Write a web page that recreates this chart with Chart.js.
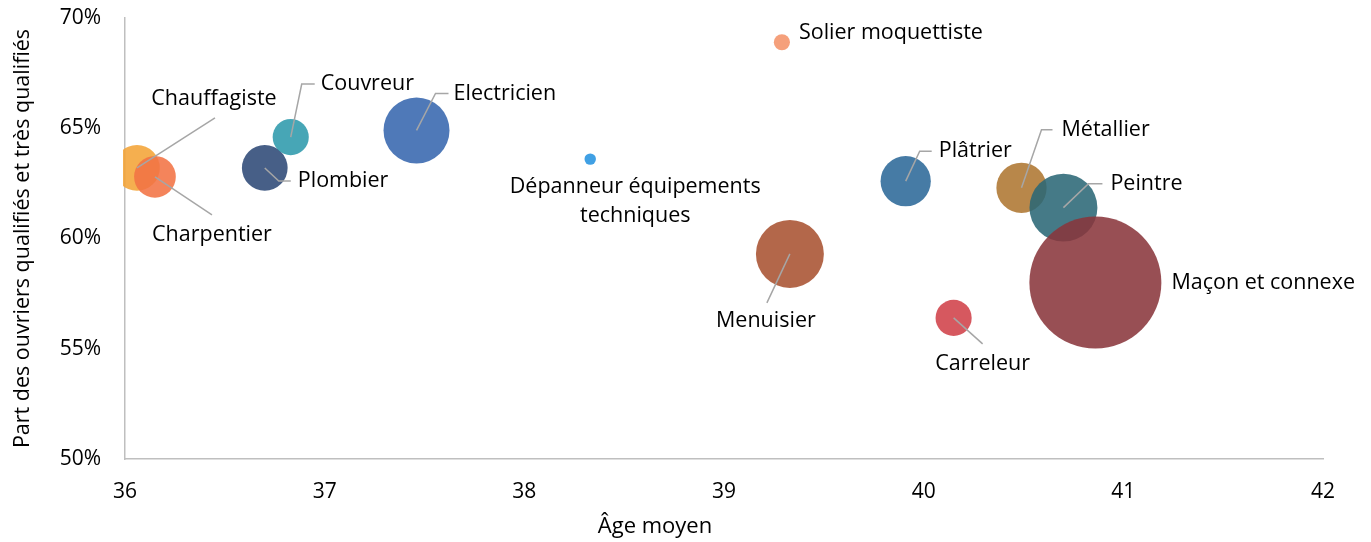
<!DOCTYPE html>
<html lang="fr">
<head>
<meta charset="utf-8">
<script src="https://cdn.jsdelivr.net/npm/chart.js@4.4.0/dist/chart.umd.min.js"></script>
<style>
  html, body { margin: 0; padding: 0; background: #fff; }
  #wrap { width: 1371px; height: 542px; }
</style>
</head>
<body>
<div id="wrap"><canvas id="chart" width="1371" height="542"></canvas></div>
<script>
// Données
const metiers = ['Chauffagiste', 'Charpentier', 'Plombier', 'Couvreur', 'Electricien',
  'Dépanneur équipements techniques', 'Solier moquettiste', 'Menuisier', 'Plâtrier',
  'Métallier', 'Peintre', 'Carreleur', 'Maçon et connexe'];
const ageMoyen = [36.06, 36.15, 36.70, 36.83, 37.46, 38.33, 39.29, 39.33, 39.91, 40.49, 40.70, 40.15, 40.86];
const partQualifies = [63.2, 62.8, 63.2, 64.6, 64.9, 63.6, 68.9, 59.3, 62.6, 62.3, 61.4, 56.4, 58.0];
// taille des bulles (effectifs, en milliers, estimés)
const effectifs = [24, 20, 24, 15, 50, 1.5, 3, 53, 29, 29, 53, 15, 200];
const xTicks = [36, 37, 38, 39, 40, 41, 42];
const yTicks = [50, 55, 60, 65, 70];

const couleurs = [
  'rgba(244,164,55,0.88)', 'rgba(243,115,68,0.88)', 'rgba(46,73,118,0.88)',
  'rgba(46,154,172,0.88)', 'rgba(55,103,174,0.88)', 'rgba(37,147,224,0.88)',
  'rgba(244,147,105,0.88)', 'rgba(169,82,49,0.88)', 'rgba(44,105,153,0.88)',
  'rgba(174,118,49,0.88)', 'rgba(43,104,118,0.88)', 'rgba(208,65,73,0.88)',
  'rgba(138,55,60,0.88)'
];

// placement des étiquettes : ligne de rappel (points relatifs au centre) + texte
const etiquettes = {
  'Chauffagiste': { line: [[78, -50]], text: [77, -69], align: 'center' },
  'Charpentier': { line: [[57, 38]], text: [57, 58], align: 'center' },
  'Plombier': { line: [[14, 13], [26, 13]], text: [33, 13], align: 'left' },
  'Couvreur': { line: [[11, -53], [24, -53]], text: [30, -53], align: 'left' },
  'Electricien': { line: [[19, -37], [32, -37]], text: [37, -37], align: 'left' },
  'Dépanneur équipements techniques': { line: null, text: [45, 28], align: 'center',
    lines: ['Dépanneur équipements', 'techniques'] },
  'Solier moquettiste': { line: null, text: [17, -9], align: 'left' },
  'Menuisier': { line: [[-23, 49]], text: [-24, 67], align: 'center' },
  'Plâtrier': { line: [[14, -30], [26, -30]], text: [33, -30], align: 'left' },
  'Métallier': { line: [[20, -58], [31, -58]], text: [40, -58], align: 'left' },
  'Peintre': { line: [[25, -24], [39, -24]], text: [47, -24], align: 'left' },
  'Carreleur': { line: [[29, 26]], text: [29, 46], align: 'center' },
  'Maçon et connexe': { line: null, text: [76, 0], align: 'left' }
};

const police = '"Open Sans", "Segoe UI", sans-serif';

const bulles = metiers.map((m, i) => ({
  x: ageMoyen[i],
  y: partQualifies[i],
  r: 66 * Math.sqrt(effectifs[i] / 200)
}));

const labelPlugin = {
  id: 'labelPlugin',
  afterDatasetsDraw(chart) {
    const ctx = chart.ctx;
    const meta = chart.getDatasetMeta(0);
    ctx.save();
    metiers.forEach((m, i) => {
      const pt = meta.data[i];
      const cfg = etiquettes[m];
      if (cfg.line) {
        ctx.strokeStyle = '#a6a6a6';
        ctx.lineWidth = 1.5;
        ctx.beginPath();
        ctx.moveTo(pt.x, pt.y);
        cfg.line.forEach(p => ctx.lineTo(pt.x + p[0], pt.y + p[1]));
        ctx.stroke();
      }
      ctx.fillStyle = '#000';
      ctx.font = '21.5px ' + police;
      ctx.textAlign = cfg.align;
      ctx.textBaseline = 'middle';
      const lines = cfg.lines || [m];
      lines.forEach((t, k) => {
        ctx.fillText(t, pt.x + cfg.text[0], pt.y + cfg.text[1] + k * 29);
      });
    });
    // titre de l'axe des x
    ctx.font = '22px ' + police;
    ctx.textAlign = 'center';
    ctx.textBaseline = 'middle';
    ctx.fillStyle = '#000';
    ctx.fillText('Âge moyen', 655, 527);
    ctx.restore();
  }
};

new Chart(document.getElementById('chart'), {
  type: 'bubble',
  data: {
    datasets: [{
      data: bulles,
      backgroundColor: couleurs,
      borderWidth: 0,
      hoverBorderWidth: 0,
      clip: { left: 2, right: 100, top: 100, bottom: 100 }
    }]
  },
  options: {
    responsive: false,
    animation: false,
    devicePixelRatio: 1,
    layout: { autoPadding: false, padding: { top: 18, right: 48, left: 0, bottom: 0 } },
    plugins: {
      legend: { display: false },
      tooltip: { enabled: false }
    },
    scales: {
      x: {
        type: 'linear',
        min: 36,
        max: 42,
        afterBuildTicks: (axis) => { axis.ticks = xTicks.map(v => ({ value: v })); },
        afterFit: (axis) => {
          axis.height = 83;
          axis.paddingLeft = 0;
          axis.paddingRight = 0;
        },
        grid: { display: false, drawTicks: false },
        border: { display: true, color: '#bfbfbf', width: 1.5 },
        ticks: { color: '#000', font: { size: 21, family: police }, padding: 20, maxRotation: 0 }
      },
      y: {
        type: 'linear',
        min: 50,
        max: 70,
        afterBuildTicks: (axis) => { axis.ticks = yTicks.map(v => ({ value: v })); },
        afterFit: (axis) => {
          axis.width = 125;
          axis.paddingTop = 0;
          axis.paddingBottom = 0;
        },
        grid: { display: false, drawTicks: false },
        border: { display: true, color: '#bfbfbf', width: 1.5 },
        ticks: {
          color: '#000',
          font: { size: 21, family: police },
          padding: 24,
          callback: (v) => v + '%'
        },
        title: {
          display: true,
          text: 'Part des ouvriers qualifiés et très qualifiés',
          color: '#000',
          font: { size: 21.5, family: police },
          padding: { top: 10, bottom: 0 }
        }
      }
    }
  },
  plugins: [labelPlugin]
});
</script>
</body>
</html>
